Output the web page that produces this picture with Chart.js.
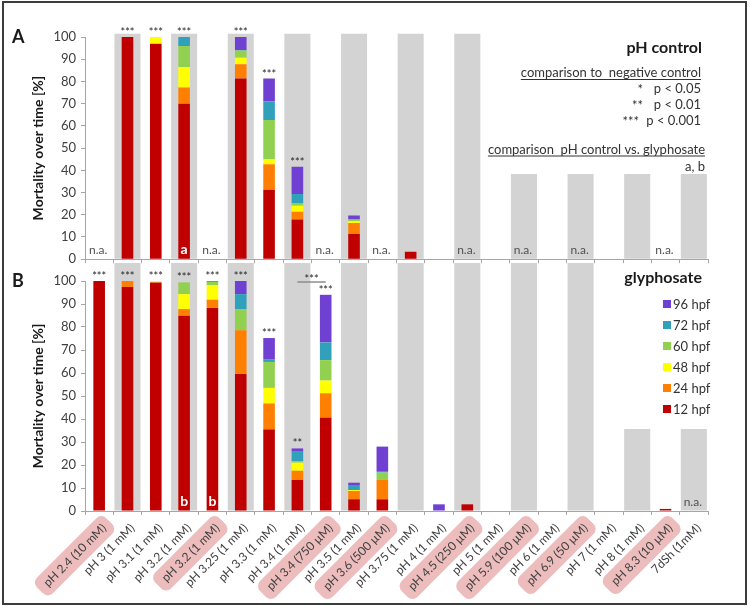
<!DOCTYPE html>
<html>
<head>
<meta charset="utf-8">
<script src="https://cdn.jsdelivr.net/npm/chart.js@4.4.0/dist/chart.umd.min.js"></script>
<style>
  body { margin: 0; background: #fff; }
  #wrap { position: relative; width: 750px; height: 607px; }
  #chartA { position: absolute; left: 0; top: 0; }
  #chartB { position: absolute; left: 0; top: 263px; }
  #frame { position: absolute; left: 2px; top: 1px; width: 741px; height: 600px; border: 2px solid #3c3c3c; pointer-events: none; }
</style>
</head>
<body>
<div id="wrap">
  <canvas id="chartA" width="750" height="272"></canvas>
  <canvas id="chartB" width="750" height="344"></canvas>
  <div id="frame"></div>
</div>
<script>
const categories = ['pH 2.4 (10 mM)', 'pH 3 (1 mM)', 'pH 3.1 (1 mM)', 'pH 3.2 (1 mM)', 'pH 3.2 (1 mM)',
  'pH 3.25 (1 mM)', 'pH 3.3 (1 mM)', 'pH 3.4 (1 mM)', 'pH 3.4 (750 µM)', 'pH 3.5 (1 mM)',
  'pH 3.6 (500 µM)', 'pH 3.75 (1 mM)', 'pH 4 (1 mM)', 'pH 4.5 (250 µM)', 'pH 5 (1 mM)',
  'pH 5.9 (100 µM)', 'pH 6 (1 mM)', 'pH 6.9 (50 µM)', 'pH 7 (1 mM)', 'pH 8 (1 mM)',
  'pH 8.3 (10 µM)', '7dSh (1mM)'];
// glyphosate concentrations that have no matching pH control (pink labels)
const highlighted = [1,0,0,0,1,0,0,0,1,0,1,0,0,1,0,1,0,1,0,0,1,0];

const hpfLabels = ['12 hpf', '24 hpf', '48 hpf', '60 hpf', '72 hpf', '96 hpf'];
const hpfColors = ['#C00000', '#FF8000', '#FFFF00', '#92D050', '#31A0BA', '#7040D2'];

// A: pH control - mortality added at each time point [%]
const ctrl12 = [0, 100, 97, 70, 0, 81.3, 31.3, 17.9, 0, 11.3, 0, 3.4, 0, 0, 0, 0, 0, 0, 0, 0, 0, 0];
const ctrl24 = [0, 0, 0, 7.3, 0, 6.4, 11.4, 3.4, 0, 5, 0, 0, 0, 0, 0, 0, 0, 0, 0, 0, 0, 0];
const ctrl48 = [0, 0, 3, 9.2, 0, 3, 2.2, 2.8, 0, 0.9, 0, 0, 0, 0, 0, 0, 0, 0, 0, 0, 0, 0];
const ctrl60 = [0, 0, 0, 9.5, 0, 3.2, 17.8, 1.2, 0, 0.7, 0, 0, 0, 0, 0, 0, 0, 0, 0, 0, 0, 0];
const ctrl72 = [0, 0, 0, 4, 0, 0.3, 8.4, 4, 0, 0, 0, 0, 0, 0, 0, 0, 0, 0, 0, 0, 0, 0];
const ctrl96 = [0, 0, 0, 0, 0, 5.8, 10.2, 12.3, 0, 1.8, 0, 0, 0, 0, 0, 0, 0, 0, 0, 0, 0, 0];
const ctrlBand = [null, 101.5, null, 101.5, null, 101.5, null, 101.5, null, 101.5, null, 101.5, null, 101.5,
  null, 38.4, null, 38.4, null, 38.4, null, 38.4];
const ctrlStars = ['', '***', '***', '***', '', '***', '***', '***', '', '', '', '', '', '', '', '', '', '', '', '', '', ''];
const ctrlNotes = ['n.a.', '', '', 'a', 'n.a.', '', '', '', 'n.a.', '', 'n.a.', '', '', 'n.a.', '', 'n.a.', '', 'n.a.', '', '', 'n.a.', ''];

// B: glyphosate
const gly12 = [100, 97.4, 99.3, 84.9, 88.3, 59.6, 35.5, 13.5, 40.7, 5.1, 5.1, 0, 0, 2.9, 0, 0, 0, 0, 0, 0, 0.9, 0];
const gly24 = [0, 2.6, 0, 2.9, 3.6, 19, 11.3, 4, 10.5, 3.6, 8.4, 0, 0, 0, 0, 0, 0, 0, 0, 0, 0, 0];
const gly48 = [0, 0, 0.7, 6.5, 6.2, 0, 6.7, 3.5, 5.5, 0.4, 0, 0, 0, 0, 0, 0, 0, 0, 0, 0, 0, 0];
const gly60 = [0, 0, 0, 5.1, 1.5, 9.2, 11.3, 0.7, 8.9, 0, 3.2, 0, 0, 0, 0, 0, 0, 0, 0, 0, 0, 0];
const gly72 = [0, 0, 0, 0, 0.4, 6.5, 1, 4.1, 7.7, 2.2, 0.7, 0, 0, 0, 0, 0, 0, 0, 0, 0, 0, 0];
const gly96 = [0, 0, 0, 0, 0, 5.7, 9.4, 1.4, 20.7, 1, 10.6, 0, 2.9, 0, 0, 0, 0, 0, 0, 0, 0, 0];
const glyBand = [null, 110, null, 110, null, 110, null, 110, null, 110, null, 110, null, 110,
  null, 110, null, 110, null, 35.7, null, 35.7];
const glyStars = ['***', '***', '***', '***', '***', '***', '***', '**', '***', '', '', '', '', '', '', '', '', '', '', '', '', ''];
const glyNotes = ['', '', '', 'b', 'b', '', '', '', '', '', '', '', '', '', '', '', '', '', '', '', '', 'n.a.'];
const glyBracket = { from: 7, to: 8, text: '***' };

Chart.defaults.font.family = 'Lato';

function makeDatasets(series, band) {
  const ds = series.map((s, i) => ({
    label: hpfLabels[i], data: s, backgroundColor: hpfColors[i], stack: 'hpf', grouped: false,
    barPercentage: 0.41, categoryPercentage: 1, order: 0
  }));
  // grey background columns behind the bars
  ds.push({ label: 'band', data: band, backgroundColor: '#D3D3D3', stack: 'band', grouped: false,
    barPercentage: 0.92, categoryPercentage: 1, order: 1, clip: false });
  return ds;
}

function makeOptions(top, xHeight, xTicks, marksOpts) {
  return {
    responsive: false,
    animation: false,
    layout: { padding: { left: 28, right: 42, top: top, bottom: 0 } },
    plugins: { legend: { display: false }, tooltip: { enabled: false }, marks: marksOpts },
    scales: {
      x: {
        offset: true,
        grid: { offset: true, drawOnChartArea: false, tickLength: 4, color: '#A6A6A6' },
        border: { color: '#A6A6A6' },
        ticks: xTicks,
        afterFit: s => { s.height = xHeight; }
      },
      y: {
        stacked: true, min: 0, max: 100,
        ticks: { stepSize: 10, padding: 5, color: '#404040', font: { size: 13 } },
        grid: { drawOnChartArea: false, tickLength: 4, color: '#A6A6A6' },
        border: { color: '#A6A6A6' },
        title: { display: true, text: 'Mortality over time [%]', color: '#1a1a1a',
          font: { size: 14, weight: 'bold' }, padding: { top: 2, bottom: 0 } },
        afterFit: s => { s.width = 57; }
      }
    }
  };
}

// stars, n.a. and letters on the bars
const marks = {
  id: 'marks',
  afterDatasetsDraw(chart, args, o) {
    const { ctx, scales: { x, y } } = chart;
    const series = chart.data.datasets.filter(d => d.stack === 'hpf');
    const y0 = y.getPixelForValue(0);
    ctx.save();
    ctx.textAlign = 'center';
    ctx.textBaseline = 'alphabetic';
    categories.forEach((c, i) => {
      const cx = x.getPixelForValue(i);
      const total = series.reduce((s, d) => s + (d.data[i] || 0), 0);
      if (o.stars[i]) {
        ctx.font = '11px Lato';
        ctx.fillStyle = '#1f1f1f';
        ctx.fillText(o.stars[i], cx, y.getPixelForValue(total) - 1);
      }
      const note = o.notes[i];
      if (note === 'n.a.') {
        ctx.font = '12px Lato';
        ctx.fillStyle = '#505050';
        ctx.fillText(note, cx - 1, y0 - 5);
      } else if (note) {
        ctx.font = 'bold 14px Lato';
        ctx.fillStyle = '#fff';
        ctx.fillText(note, cx, y0 - 5);
      }
    });
    if (o.bracket) {
      const b = o.bracket;
      const x1 = x.getPixelForValue(b.from), x2 = x.getPixelForValue(b.to);
      const ly = y.getPixelForValue(100) + 1;
      ctx.strokeStyle = '#8c8c8c';
      ctx.lineWidth = 1.5;
      ctx.beginPath(); ctx.moveTo(x1, ly); ctx.lineTo(x2, ly); ctx.stroke();
      ctx.font = '11px Lato';
      ctx.fillStyle = '#1f1f1f';
      ctx.fillText(b.text, (x1 + x2) / 2, ly + 1);
    }
    ctx.restore();
  }
};

function underlined(ctx, text, xr, yb) {
  ctx.fillText(text, xr, yb);
  const w = ctx.measureText(text).width;
  ctx.fillRect(xr - w, yb + 2, w, 1);
}

const ctrlInfo = {
  id: 'ctrlInfo',
  afterDraw(chart) {
    const { ctx, chartArea: a } = chart;
    const r = a.right - 6;
    ctx.save();
    ctx.textBaseline = 'alphabetic';
    ctx.fillStyle = '#1a1a1a';
    ctx.textAlign = 'left';
    ctx.font = 'bold 18px Lato';
    ctx.fillText('A', 12, 43);
    ctx.textAlign = 'right';
    ctx.font = 'bold 16px Lato';
    ctx.fillText('pH control', r, 53);
    ctx.font = '13px Lato';
    ctx.fillStyle = '#333';
    underlined(ctx, 'comparison to  negative control', r - 1, 77);
    ctx.fillText('p < 0.05', r - 1, 92.5);
    ctx.fillText('p < 0.01', r - 1, 108.5);
    ctx.fillText('p < 0.001', r - 1, 124.5);
    ctx.fillText('*', r - 59, 94);
    ctx.fillText('**', r - 59, 110);
    ctx.fillText('***', r - 63, 126);
    underlined(ctx, 'comparison  pH control vs. glyphosate', r + 3, 153.5);
    ctx.fillText('a, b', r + 3, 170.5);
    ctx.restore();
  }
};

const glyInfo = {
  id: 'glyInfo',
  beforeDraw(chart) {
    // rounded pink boxes behind the glyphosate-only labels
    const { ctx } = chart;
    const items = chart.scales.x.getLabelItems(chart.chartArea);
    items.forEach((it, i) => {
      const b = it.options.backdrop;
      if (!highlighted[i] || !b) return;
      ctx.save();
      ctx.translate(it.options.translation[0], it.options.translation[1]);
      ctx.rotate(it.options.rotation);
      ctx.fillStyle = '#EDBDBD';
      ctx.beginPath();
      ctx.roundRect(b.left, b.top, b.width, b.height, 7);
      ctx.fill();
      ctx.restore();
    });
  },
  afterDraw(chart) {
    const { ctx, chartArea: a } = chart;
    const r = a.right - 6;
    ctx.save();
    ctx.textBaseline = 'alphabetic';
    ctx.fillStyle = '#1a1a1a';
    ctx.textAlign = 'left';
    ctx.font = 'bold 18px Lato';
    ctx.fillText('B', 12, 24);
    ctx.textAlign = 'right';
    ctx.font = 'bold 16px Lato';
    ctx.fillText('glyphosate', r, 20);
    // legend, latest time point on top
    ctx.textAlign = 'left';
    ctx.font = '13px Lato';
    for (let k = 0; k < hpfLabels.length; k++) {
      const i = hpfLabels.length - 1 - k;
      const cy = a.top + 23 + k * 21;
      ctx.fillStyle = hpfColors[i];
      ctx.fillRect(663, cy - 4, 8, 8);
      ctx.fillStyle = '#333';
      ctx.fillText(hpfLabels[i], 673, cy + 4.5);
    }
    ctx.restore();
  }
};

new Chart(document.getElementById('chartA'), {
  type: 'bar',
  data: { labels: categories, datasets: makeDatasets([ctrl12, ctrl24, ctrl48, ctrl60, ctrl72, ctrl96], ctrlBand) },
  options: makeOptions(37, 10, { display: false }, { stars: ctrlStars, notes: ctrlNotes }),
  plugins: [marks, ctrlInfo]
});

new Chart(document.getElementById('chartB'), {
  type: 'bar',
  data: { labels: categories, datasets: makeDatasets([gly12, gly24, gly48, gly60, gly72, gly96], glyBand) },
  options: makeOptions(18, 96, {
    autoSkip: false, minRotation: 45, maxRotation: 45, padding: 6,
    color: '#404040', font: { size: 12 },
    showLabelBackdrop: true, backdropColor: 'rgba(0,0,0,0)',
    backdropPadding: { top: 4, bottom: 4, left: 8, right: 7 }
  }, { stars: glyStars, notes: glyNotes, bracket: glyBracket }),
  plugins: [marks, glyInfo]
});
</script>
</body>
</html>
